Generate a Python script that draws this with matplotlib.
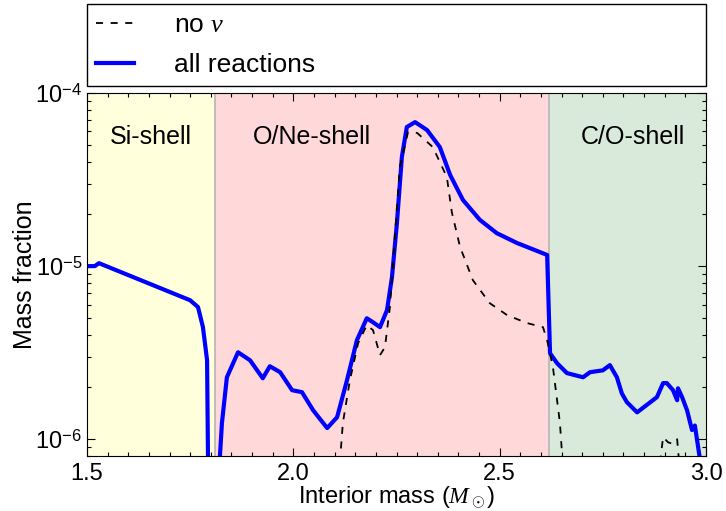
import matplotlib

matplotlib.use("Agg")

import matplotlib.pyplot as plt
import numpy as np
from matplotlib.ticker import FixedLocator, MultipleLocator, LogLocator, NullFormatter

plt.rcParams["font.family"] = ["Liberation Sans", "DejaVu Sans"]
plt.rcParams["mathtext.fontset"] = "custom"
plt.rcParams["mathtext.rm"] = "Liberation Sans"
plt.rcParams["mathtext.it"] = "Liberation Serif:italic"
plt.rcParams["mathtext.default"] = "it"

# mass coordinate (M_sun) and mass fraction, all reactions included
mass_all = [1.500, 1.519, 1.529, 1.750, 1.769, 1.781, 1.791, 1.794,
            1.817, 1.827, 1.839, 1.866, 1.895, 1.926, 1.943, 1.968, 1.997,
            2.021, 2.048, 2.082, 2.106, 2.130, 2.154, 2.178, 2.193, 2.210,
            2.227, 2.239, 2.251, 2.263, 2.275, 2.295, 2.324, 2.355, 2.380,
            2.411, 2.452, 2.493, 2.542, 2.615, 2.622, 2.639, 2.663, 2.702,
            2.719, 2.750, 2.767, 2.784, 2.796, 2.808, 2.833, 2.881, 2.896,
            2.905, 2.920, 2.930, 2.932, 2.942, 2.954, 2.966, 2.973, 2.992]
frac_all = [1.0e-5, 1.0e-5, 1.04e-5, 6.35e-6, 5.8e-6, 4.44e-6, 2.86e-6, 5e-7,
            5e-7, 1.24e-6, 2.28e-6, 3.18e-6, 2.86e-6, 2.25e-6, 2.64e-6, 2.44e-6, 1.92e-6,
            1.87e-6, 1.47e-6, 1.16e-6, 1.34e-6, 2.19e-6, 3.73e-6, 5.0e-6, 4.74e-6, 4.44e-6,
            5.57e-6, 8.63e-6, 1.77e-5, 4.27e-5, 6.36e-5, 6.79e-5, 6.11e-5, 4.87e-5, 3.36e-5,
            2.41e-5, 1.85e-5, 1.55e-5, 1.36e-5, 1.16e-5, 3.14e-6, 2.75e-6, 2.41e-6, 2.28e-6,
            2.44e-6, 2.50e-6, 2.68e-6, 2.28e-6, 1.84e-6, 1.64e-6, 1.43e-6, 1.75e-6, 2.11e-6,
            2.11e-6, 1.92e-6, 1.68e-6, 1.97e-6, 1.75e-6, 1.47e-6, 1.13e-6, 1.20e-6, 6e-7]

# same quantity without neutrino reactions
mass_nonu = [2.110, 2.120, 2.137, 2.157, 2.178, 2.193, 2.210, 2.222, 2.234,
             2.246, 2.258, 2.278, 2.300, 2.338, 2.372, 2.384, 2.404, 2.435,
             2.476, 2.518, 2.566, 2.605, 2.615, 2.629, 2.646, 2.655,
             2.884, 2.896, 2.908, 2.920, 2.930, 2.938]
frac_nonu = [6e-7, 1.24e-6, 2.19e-6, 3.59e-6, 4.56e-6, 4.27e-6, 3.06e-6, 3.40e-6, 5.79e-6,
             1.47e-5, 3.73e-5, 5.96e-5, 5.88e-5, 4.87e-5, 3.27e-5, 2.05e-5, 1.29e-5, 8.3e-6,
             6.11e-6, 5.21e-6, 4.69e-6, 4.44e-6, 3.73e-6, 2.61e-6, 1.24e-6, 6e-7,
             6e-7, 1.03e-6, 9.6e-7, 9.4e-7, 1.0e-6, 6e-7]

shell_names = ["Si-shell", "O/Ne-shell", "C/O-shell"]
shell_edges = [1.5, 1.81, 2.62, 3.0]
shell_label_x = [1.655, 2.045, 2.823]
shell_colors = ["#ffffdc", "#ffd9d9", "#d9eadb"]

fig = plt.figure(figsize=(7.26, 5.11), dpi=100)
ax = fig.add_axes([0.1198, 0.1076, 0.8527, 0.7104])

for name, lo, hi, lx, color in zip(shell_names, shell_edges[:-1], shell_edges[1:],
                                   shell_label_x, shell_colors):
    ax.axvspan(lo, hi, color=color, lw=0, zorder=0)
    ax.text(lx, 0.88, name, transform=ax.get_xaxis_transform(),
            ha="center", va="center", fontsize=18)
for edge in shell_edges[1:-1]:
    ax.axvline(edge, color="#b4b4b4", lw=1.2, zorder=1)

ax.plot(mass_nonu, frac_nonu, color="black", lw=1.3, dashes=(3.9, 4.2),
        label=r"no $\nu$", zorder=3)
ax.plot(mass_all, frac_all, color="#0000ff", lw=3, label="all reactions", zorder=2)

ax.set_yscale("log")
ax.set_xlim(1.5, 3.0)
ax.set_ylim(8e-7, 1e-4)
ax.xaxis.set_major_locator(FixedLocator([1.5, 2.0, 2.5, 3.0]))
ax.xaxis.set_minor_locator(MultipleLocator(0.05))
ax.yaxis.set_major_locator(FixedLocator([1e-6, 1e-5, 1e-4]))
ax.yaxis.set_minor_locator(LogLocator(base=10, subs=np.arange(2, 10)))
ax.yaxis.set_minor_formatter(NullFormatter())
ax.set_yticklabels([r"10$^{\mathrm{-6}}$", r"10$^{\mathrm{-5}}$", r"10$^{\mathrm{-4}}$"])
ax.tick_params(which="both", direction="in", top=True, right=True, labelsize=17)
ax.tick_params(which="major", length=6, width=0.8)
ax.tick_params(which="minor", length=3, width=0.8)
ax.tick_params(axis="x", pad=5)

ax.set_xlabel(r"Interior mass ($M_\odot$)", fontsize=17, labelpad=0)
ax.set_ylabel("Mass fraction", fontsize=18, labelpad=-1)

leg = ax.legend(loc="lower left", bbox_to_anchor=(0, 1.02, 1, 0.2), mode="expand",
                borderaxespad=0, fontsize=19, frameon=True, fancybox=False,
                edgecolor="black", framealpha=1, labelspacing=0.6, borderpad=0.33,
                handlelength=1.45, handletextpad=1.5)
leg.get_frame().set_linewidth(1.0)

fig.savefig("out.png", dpi=100)
